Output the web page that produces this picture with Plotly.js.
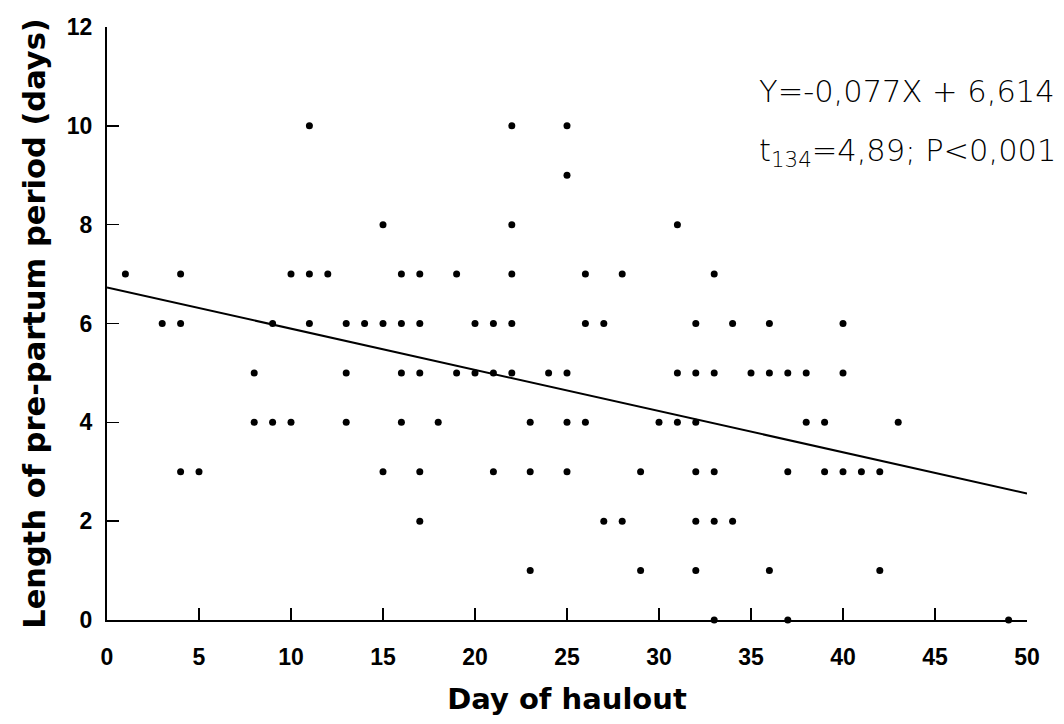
<!DOCTYPE html>
<html>
<head>
<meta charset="utf-8">
<script src="https://cdn.plot.ly/plotly-3.0.1.min.js"></script>
<style>
  html, body { margin: 0; padding: 0; background: #ffffff; }
  #chart { width: 1064px; height: 724px; }
</style>
</head>
<body>
<div id="chart"></div>
<script>
// Day of haulout (x) and length of pre-partum period in days (y), read row by row
const haulDay = [
  11, 22, 25,
  25,
  15, 22, 31,
  1, 4, 10, 11, 12, 16, 17, 19, 22, 26, 28, 33,
  3, 4, 9, 11, 13, 14, 15, 16, 17, 20, 21, 22, 26, 27, 32, 34, 36, 40,
  8, 13, 16, 17, 19, 20, 21, 22, 24, 25, 31, 32, 33, 35, 36, 37, 38, 40,
  8, 9, 10, 13, 16, 18, 23, 25, 26, 30, 31, 32, 38, 39, 43,
  4, 5, 15, 17, 21, 23, 25, 29, 32, 33, 37, 39, 40, 41, 42,
  17, 27, 28, 32, 33, 34,
  23, 29, 32, 36, 42,
  33, 37, 49
];
const prepartumDays = [
  10, 10, 10,
  9,
  8, 8, 8,
  7, 7, 7, 7, 7, 7, 7, 7, 7, 7, 7, 7,
  6, 6, 6, 6, 6, 6, 6, 6, 6, 6, 6, 6, 6, 6, 6, 6, 6, 6,
  5, 5, 5, 5, 5, 5, 5, 5, 5, 5, 5, 5, 5, 5, 5, 5, 5, 5,
  4, 4, 4, 4, 4, 4, 4, 4, 4, 4, 4, 4, 4, 4, 4,
  3, 3, 3, 3, 3, 3, 3, 3, 3, 3, 3, 3, 3, 3, 3,
  2, 2, 2, 2, 2, 2,
  1, 1, 1, 1, 1,
  0, 0, 0
];

// Regression line as drawn in the figure
const fitX = [0, 50];
const fitY = [6.73, 2.56];

// Tick values
const xTicks = [0, 5, 10, 15, 20, 25, 30, 35, 40, 45, 50];
const yTicks = [0, 2, 4, 6, 8, 10, 12];

const equationText = 'Y=-0,077X + 6,614';
const statText = 't<sub>134</sub>=4,89; P&lt;0,001';

const traces = [
  {
    type: 'scatter',
    mode: 'lines',
    x: fitX,
    y: fitY,
    line: { color: '#000000', width: 2 },
    hoverinfo: 'skip',
    showlegend: false
  },
  {
    type: 'scatter',
    mode: 'markers',
    x: haulDay,
    y: prepartumDays,
    marker: { symbol: 'circle', size: 7, color: '#000000', line: { width: 0 } },
    cliponaxis: false,
    showlegend: false
  }
];

const tickFont = { family: 'Liberation Sans, Arial, sans-serif', size: 23, color: '#000000', weight: 'bold' };
const xTitleFont = { family: 'DejaVu Sans, sans-serif', size: 29, color: '#000000', weight: 'bold' };
const yTitleFont = { family: 'DejaVu Sans, sans-serif', size: 30.5, color: '#000000', weight: 'bold' };
const statFont = { family: 'DejaVu Sans ExtraLight, DejaVu Sans, sans-serif', size: 30.5, color: '#000000', weight: 200 };

const layout = {
  width: 1064,
  height: 724,
  paper_bgcolor: '#ffffff',
  plot_bgcolor: '#ffffff',
  margin: { l: 107, r: 37, t: 27, b: 104, pad: 0 },
  showlegend: false,
  xaxis: {
    range: [0, 50],
    tickvals: xTicks,
    ticktext: xTicks.map(String),
    ticks: 'inside',
    ticklen: 12,
    tickwidth: 1.5,
    tickcolor: '#000000',
    showline: true,
    linewidth: 2,
    linecolor: '#000000',
    showgrid: false,
    zeroline: false,
    tickfont: tickFont,
    ticklabelstandoff: 15,
    title: { text: 'Day of haulout', font: xTitleFont, standoff: 20 },
    automargin: false,
    fixedrange: true
  },
  yaxis: {
    range: [0, 12],
    tickvals: yTicks,
    ticktext: yTicks.map(String),
    ticks: 'inside',
    ticklen: 12,
    tickwidth: 1.5,
    tickcolor: '#000000',
    showline: true,
    linewidth: 2,
    linecolor: '#000000',
    showgrid: false,
    zeroline: false,
    tickfont: tickFont,
    ticklabelstandoff: 8,
    title: { text: 'Length of pre-partum period (days)', font: yTitleFont, standoff: 12 },
    automargin: false,
    fixedrange: true
  },
  annotations: [
    {
      xref: 'paper', yref: 'paper',
      x: 0.7067, y: 0.892,
      xanchor: 'left', yanchor: 'middle',
      text: equationText,
      showarrow: false,
      font: statFont,
      align: 'left'
    },
    {
      xref: 'paper', yref: 'paper',
      x: 0.7067, y: 0.789,
      xanchor: 'left', yanchor: 'middle',
      text: statText,
      showarrow: false,
      font: statFont,
      align: 'left'
    }
  ]
};

Plotly.newPlot('chart', traces, layout, { displayModeBar: false, staticPlot: true });
</script>
</body>
</html>
